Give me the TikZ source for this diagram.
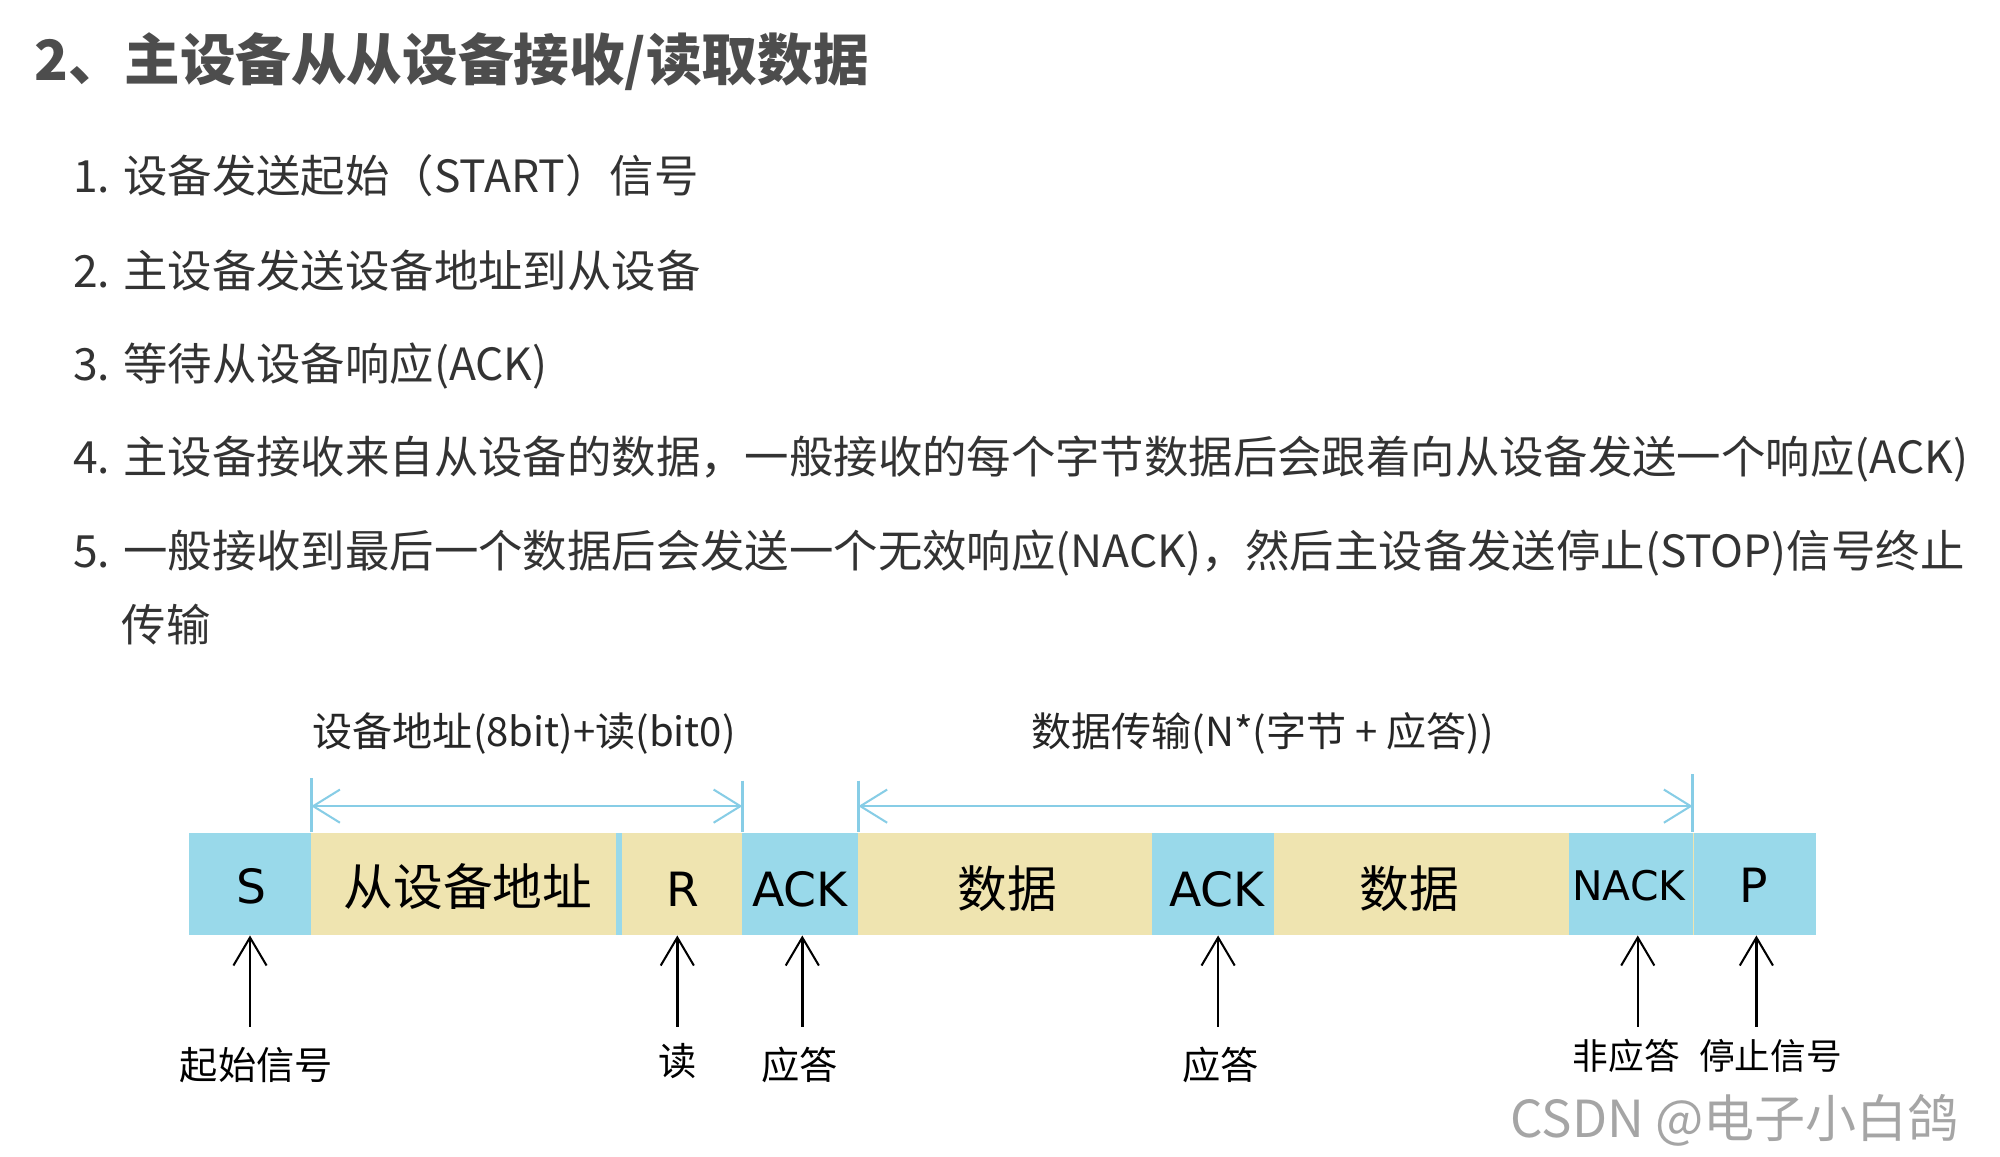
\documentclass[tikz,border=0pt]{standalone}
\usepackage{fontspec}
\setmainfont{Noto Sans CJK SC}
\newfontfamily\cjk{Noto Sans CJK SC}
\newfontfamily\latf{DejaVu Sans}
\usetikzlibrary{arrows.meta}
\definecolor{boxblue}{RGB}{153,217,234}
\definecolor{boxyel}{RGB}{239,228,176}
\definecolor{dimblue}{RGB}{135,205,230}
\definecolor{titlec}{RGB}{77,77,77}
\definecolor{listc}{RGB}{51,51,51}
\definecolor{wmc}{RGB}{165,165,165}
\tikzset{
  titletext/.style={anchor=base west, inner sep=0, text=titlec, font=\cjk\bfseries\fontsize{21.8}{24}\selectfont},
  listtext/.style={anchor=base west, inner sep=0, text=listc, font=\cjk\fontsize{17.4}{20}\selectfont},
  bluebox/.style={fill=boxblue, draw=none, minimum height=40pt, inner sep=0, text=black},
  yelbox/.style={fill=boxyel, draw=none, minimum height=40pt, inner sep=0, text=black},
  cjkbig/.style={font=\cjk\fontsize{19.5}{22}\selectfont},
  latbig/.style={font=\latf\fontsize{18.5}{22}\selectfont},
  dimline/.style={draw=dimblue, line width=1pt},
  dimarrow/.style={dimline, {Straight Barb[length=10.5pt,width=13pt,line width=0.8pt]}-{Straight Barb[length=10.5pt,width=13pt,line width=0.8pt]}},
  dimlabel/.style={inner sep=0, text=black!85, font=\cjk\fontsize{15.7}{18}\selectfont},
  uparrow/.style={draw=black, line width=1pt, -{Straight Barb[length=11pt,width=13pt,line width=0.8pt]}},
  bottomlabel/.style={inner sep=0, text=black, font=\cjk\fontsize{15}{18}\selectfont},
  smalllabel/.style={inner sep=0, text=black, font=\cjk\fontsize{14}{16}\selectfont},
}
\begin{document}
\begin{tikzpicture}[x=0.5pt,y=-0.5pt]
\useasboundingbox[fill=white] (0,0) rectangle (1568,907);

% Title
\node[titletext] (title) at (27,63) {2、主设备从从设备接收/读取数据};

% List
\node[listtext] (l1) at (57,151) {1. 设备发送起始（START）信号};
\node[listtext] (l2) at (57,225) {2. 主设备发送设备地址到从设备};
\node[listtext] (l3) at (57,298) {3. 等待从设备响应(ACK)};
\node[listtext] (l4) at (57,371) {4. 主设备接收来自从设备的数据，一般接收的每个字节数据后会跟着向从设备发送一个响应(ACK)};
\node[listtext] (l5) at (57,445) {5. 一般接收到最后一个数据后会发送一个无效响应(NACK)，然后主设备发送停止(STOP)信号终止};
\node[listtext] (l5b) at (95,503) {传输};

% Bar
\node[bluebox, minimum width=48pt] (bS) at (196,693) {};
\node[yelbox, minimum width=119.5pt] (bAddr) at (363.5,693) {};
\node[bluebox, minimum width=2.5pt] (bGap) at (485.5,693) {};
\node[yelbox, minimum width=47pt] (bR) at (535,693) {};
\node[bluebox, minimum width=45.5pt] (bAck1) at (627.5,693) {};
\node[yelbox, minimum width=115pt] (bD1) at (788,693) {};
\node[bluebox, minimum width=48pt] (bAck2) at (951,693) {};
\node[yelbox, minimum width=115.5pt] (bD2) at (1114.5,693) {};
\node[bluebox, minimum width=48.5pt] (bNack) at (1278.5,693) {};
\node[yelbox, minimum width=0.6pt] (bLine) at (1327.6,693) {};
\node[bluebox, minimum width=48pt] (bP) at (1376,693) {};

% Box texts
\node[latbig, inner sep=0] (tS) at (197,695) {S};
\node[cjkbig, inner sep=0] (tAddr) at (367,695) {从设备地址};
\node[latbig, inner sep=0] (tR) at (535,697) {R};
\node[latbig, inner sep=0] (tAck1) at (627,697) {ACK};
\node[cjkbig, inner sep=0] (tD1) at (790,697) {数据};
\node[latbig, inner sep=0] (tAck2) at (954,697) {ACK};
\node[cjkbig, inner sep=0] (tD2) at (1105,697) {数据};
\node[font=\latf\fontsize{16}{18}\selectfont, inner sep=0] (tNack) at (1277,694) {NACK};
\node[latbig, inner sep=0] (tP) at (1375,694) {P};

% Dimension lines
\coordinate (d1a) at (244,610);
\coordinate (d1b) at (582,612);
\coordinate (d2a) at (673,612);
\coordinate (d2b) at (1327,607);
\draw[dimline] (d1a) -- (d1a |- bAddr.north);
\draw[dimline] (d1b) -- (d1b |- bR.north);
\draw[dimline] (d2a) -- (d2a |- bD1.north);
\draw[dimline] (d2b) -- (d2b |- bNack.north);
\coordinate (h1a) at (244,632);
\coordinate (h1b) at (582,632);
\coordinate (h2a) at (673,632);
\coordinate (h2b) at (1327,632);
\draw[dimarrow] (h1a) -- (h1b);
\draw[dimarrow] (h2a) -- (h2b);
\node[dimlabel] (lab1) at (411,575) {设备地址(8bit)+读(bit0)};
\node[dimlabel] (lab2) at (990,575) {数据传输(N*(字节 + 应答))};

% Up arrows
\coordinate (aS) at (196,805);
\coordinate (aR) at (531,805);
\coordinate (aA1) at (629,805);
\coordinate (aA2) at (955,805);
\coordinate (aN) at (1284,805);
\coordinate (aP) at (1377,805);
\draw[uparrow] (aS) -- (aS |- bS.south);
\draw[uparrow] (aR) -- (aR |- bR.south);
\draw[uparrow] (aA1) -- (aA1 |- bAck1.south);
\draw[uparrow] (aA2) -- (aA2 |- bAck2.south);
\draw[uparrow] (aN) -- (aN |- bNack.south);
\draw[uparrow] (aP) -- (aP |- bP.south);

% Bottom labels
\node[bottomlabel] (lS) at (201,835) {起始信号};
\node[bottomlabel] (lR) at (531,832) {读};
\node[bottomlabel] (lA1) at (627,835) {应答};
\node[bottomlabel] (lA2) at (957,835) {应答};
\node[smalllabel] (lN) at (1275,828) {非应答};
\node[smalllabel] (lP) at (1388,828) {停止信号};

% Watermark
\node[inner sep=0, text=wmc, font=\cjk\fontsize{20}{22}\selectfont] (wm) at (1360,878) {CSDN @电子小白鸽};
\end{tikzpicture}
\end{document}
